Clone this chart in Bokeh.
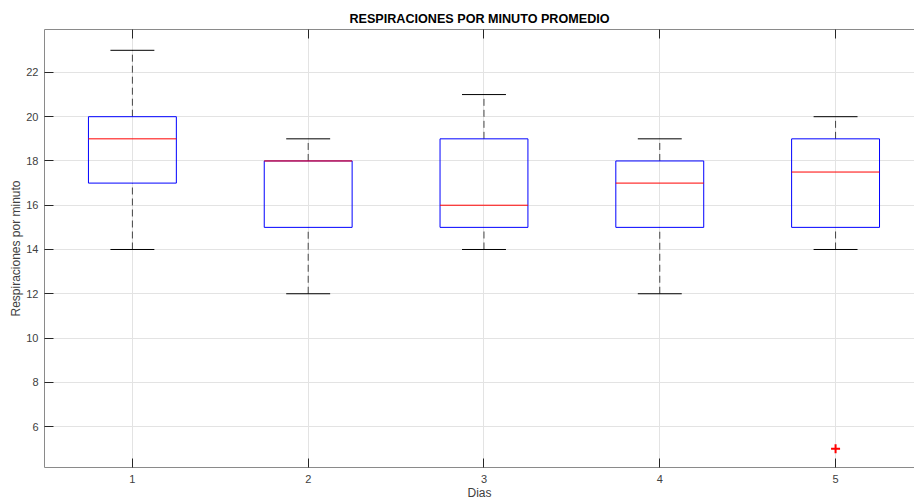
from bokeh.plotting import figure
from bokeh.models import LinearAxis, FixedTicker, ColumnDataSource, Range1d, Spacer
from bokeh.layouts import column, row
from bokeh.embed import file_html
from bokeh.resources import INLINE

# Data
dias = [1, 2, 3, 4, 5]
whisker_low = [14, 12, 14, 12, 14]
q1 = [17, 15, 15, 15, 15]
mediana = [19, 18, 16, 17, 17.5]
q3 = [20, 18, 19, 18, 19]
whisker_high = [23, 19, 21, 19, 20]
outlier_dia = [5]
outlier_val = [5]
y_ticks = [6, 8, 10, 12, 14, 16, 18, 20, 22]

BOX_HALF = 0.25
CAP_HALF = 0.125
FONT = "Liberation Sans"
TEXT_COLOR = "#404040"
AXIS_COLOR = "#8a8a8a"

src = ColumnDataSource(dict(
    x=dias,
    left=[d - BOX_HALF for d in dias],
    right=[d + BOX_HALF for d in dias],
    cl=[d - CAP_HALF for d in dias],
    cr=[d + CAP_HALF for d in dias],
    wl=whisker_low, q1=q1, med=mediana, q3=q3, wh=whisker_high,
))

p = figure(width=908, height=496,
           x_range=Range1d(0.5, 5.449), y_range=Range1d(4.15, 23.94),
           output_backend="svg", toolbar_location=None,
           min_border_left=0, min_border_right=0, min_border_top=0,
           min_border_bottom=0, x_axis_location=None, y_axis_location=None,
           title="RESPIRACIONES POR MINUTO PROMEDIO")
p.outline_line_color = None
p.background_fill_color = "white"
p.border_fill_color = "white"

p.title.align = "center"
p.title.text_font = FONT
p.title.text_font_size = "12.6px"
p.title.text_font_style = "bold"
p.title.text_color = "#000000"
p.title.standoff = 7

def style_axis(ax, labels=True):
    ax.axis_line_color = AXIS_COLOR
    ax.axis_line_width = 1
    ax.major_tick_in = 9
    ax.major_tick_out = 0
    ax.major_tick_line_color = "#262626"
    ax.minor_tick_line_color = None
    ax.major_label_text_font = FONT
    ax.major_label_text_font_size = "11px"
    ax.major_label_text_color = TEXT_COLOR if labels else None
    ax.axis_label_text_font = FONT
    ax.axis_label_text_font_size = "12px"
    ax.axis_label_text_font_style = "normal"
    ax.axis_label_text_color = TEXT_COLOR

xb = LinearAxis(ticker=FixedTicker(ticks=dias), axis_label="Dias")
style_axis(xb)
xb.major_label_standoff = 7
xb.axis_label_standoff = 0
p.add_layout(xb, "below")

yl = LinearAxis(ticker=FixedTicker(ticks=y_ticks), axis_label="Respiraciones por minuto")
style_axis(yl)
yl.major_label_standoff = 6
yl.axis_label_standoff = 0
p.add_layout(yl, "left")

xt = LinearAxis(ticker=FixedTicker(ticks=dias))
style_axis(xt, labels=False)
xt.major_label_standoff = 0
p.add_layout(xt, "above")

p.xgrid.ticker = FixedTicker(ticks=dias)
p.ygrid.ticker = FixedTicker(ticks=y_ticks)
p.xgrid.grid_line_color = "#e3e3e3"
p.ygrid.grid_line_color = "#e3e3e3"

# whiskers
p.segment(x0="x", y0="q3", x1="x", y1="wh", source=src, line_color="#000000",
          line_dash="7 4", line_width=1, line_alpha=0.7)
p.segment(x0="x", y0="wl", x1="x", y1="q1", source=src, line_color="#000000",
          line_dash="7 4", line_width=1, line_alpha=0.7)
# caps
p.segment(x0="cl", y0="wh", x1="cr", y1="wh", source=src, line_color="#000000", line_width=1)
p.segment(x0="cl", y0="wl", x1="cr", y1="wl", source=src, line_color="#000000", line_width=1)
# boxes
p.quad(left="left", right="right", bottom="q1", top="q3", source=src,
       fill_color=None, line_color="#0000ff", line_width=1)
# medians
p.segment(x0="left", y0="med", x1="right", y1="med", source=src,
          line_color="#ff0000", line_width=1)
# outliers
p.scatter(outlier_dia, outlier_val, marker="cross", size=9, line_color="#ff0000",
          line_width=2)

layout = column(Spacer(height=6), row(Spacer(width=6), p))
open("out.html", "w").write(file_html(layout, INLINE))
